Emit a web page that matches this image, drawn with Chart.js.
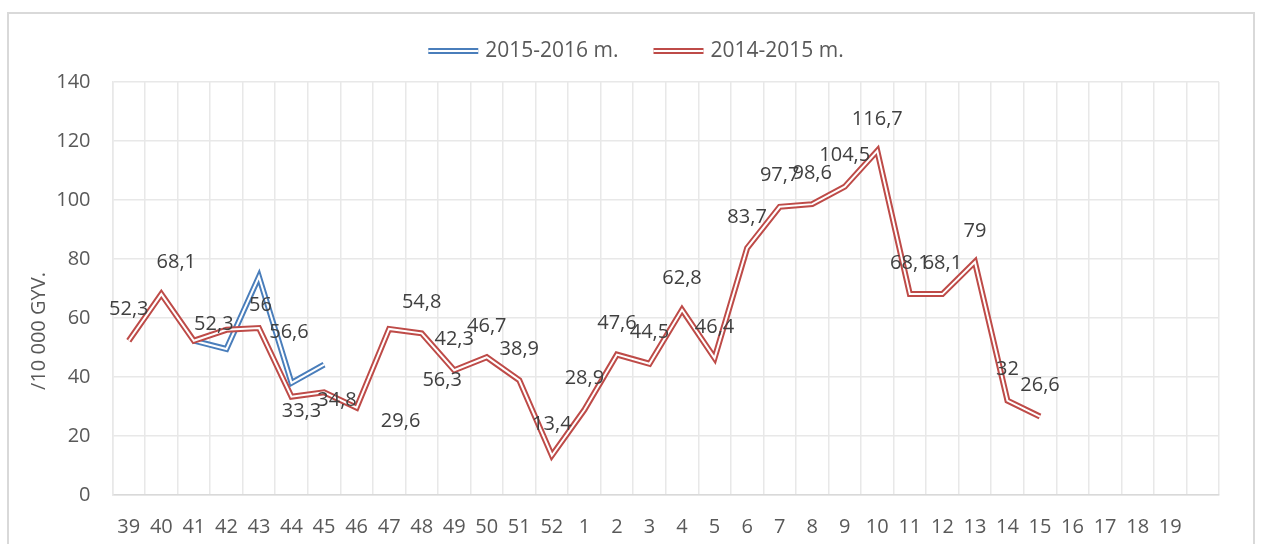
<!DOCTYPE html>
<html>
<head>
<meta charset="utf-8">
<script src="https://cdn.jsdelivr.net/npm/chart.js@4"></script>
<style>
	html, body { margin: 0; padding: 0; background: #fff; }
	#wrap { width: 1261px; height: 544px; position: relative; }
</style>
</head>
<body>
<div id="wrap"><canvas id="weeklyChart"></canvas></div>
<script>
// Weeks of the season (39 .. 52, then 1 .. 19, last slot unlabeled)
const weeks = ['39', '40', '41', '42', '43', '44', '45', '46', '47', '48', '49', '50', '51', '52',
	'1', '2', '3', '4', '5', '6', '7', '8', '9', '10', '11', '12', '13', '14', '15', '16', '17', '18', '19', ''];

// 2015-2016 season, only weeks 41..45 known
const season1516 = [null, null, 52.3, 49.5, 74, 38, 44.2];

// 2014-2015 season, weeks 39..15
const season1415 = [52.3, 68.1, 52.3, 56, 56.6, 33.3, 34.8, 29.6, 56.3, 54.8, 42.3, 46.7, 38.9, 13.4,
	28.9, 47.6, 44.5, 62.8, 46.4, 83.7, 97.7, 98.6, 104.5, 116.7, 68.1, 68.1, 79, 32, 26.6];

const yTicks = [0, 20, 40, 60, 80, 100, 120, 140];

const seriesNames = ['2015-2016 m.', '2014-2015 m.'];
const seriesColors = ['#4a7ebb', '#be4b48'];

const FONT = "'Open Sans', 'Liberation Sans', sans-serif";
const TEXT_COLOR = '#595959';
const GRID_COLOR = '#e8e8e8';

// labels that were dragged off the default "above" spot
const labelShift = { 1: [15, -32], 2: [20, -16], 3: [34, -25], 4: [30, 4], 5: [10, 15], 6: [13, 8], 7: [44, 14], 8: [53, 51] };

function formatValue(v) {
	return String(v).replace('.', ',');
}

// outer chart frame
const framePlugin = {
	id: 'frame',
	beforeDraw(chart) {
		const ctx = chart.ctx;
		ctx.save();
		ctx.strokeStyle = '#d9d9d9';
		ctx.lineWidth = 2;
		ctx.strokeRect(8, 13, chart.width - 15, chart.height + 20);
		ctx.restore();
	},
};

// white stroke down the middle -> double line look
const doubleLinePlugin = {
	id: 'doubleLine',
	afterDatasetDraw(chart, args) {
		const meta = chart.getDatasetMeta(args.index);
		const ctx = chart.ctx;
		ctx.save();
		ctx.beginPath();
		ctx.rect(chart.chartArea.left, chart.chartArea.top - 10, chart.chartArea.width, chart.chartArea.height + 10);
		ctx.clip();
		ctx.strokeStyle = '#ffffff';
		ctx.lineWidth = 2;
		ctx.lineJoin = 'miter';
		ctx.beginPath();
		let open = false;
		meta.data.forEach((pt) => {
			if (pt.skip) {
				open = false;
				return;
			}
			if (!open) {
				ctx.moveTo(pt.x, pt.y);
				open = true;
			} else {
				ctx.lineTo(pt.x, pt.y);
			}
		});
		ctx.stroke();
		ctx.restore();
	},
};

// value labels on the 2014-2015 series
const valueLabelPlugin = {
	id: 'valueLabels',
	afterDatasetsDraw(chart) {
		const meta = chart.getDatasetMeta(1);
		const ctx = chart.ctx;
		ctx.save();
		ctx.font = '20px ' + FONT;
		ctx.fillStyle = '#404040';
		ctx.textAlign = 'center';
		ctx.textBaseline = 'middle';
		meta.data.forEach((pt, i) => {
			const v = season1415[i];
			if (v === null || v === undefined) return;
			const shift = labelShift[i] || [0, -31];
			ctx.fillText(formatValue(v), pt.x + shift[0], pt.y + shift[1]);
		});
		ctx.restore();
	},
};

// legend with double-line keys, plus rotated axis title
const legendPlugin = {
	id: 'doubleLegend',
	afterDraw(chart) {
		const ctx = chart.ctx;
		ctx.save();
		ctx.font = '21px ' + FONT;
		ctx.textBaseline = 'middle';
		const keyW = 50, keyGap = 7, itemGap = 35;
		const widths = seriesNames.map((n) => keyW + keyGap + ctx.measureText(n).width);
		const total = widths.reduce((a, b) => a + b, 0) + itemGap * (widths.length - 1);
		let x = 636 - total / 2;
		const y = 51;
		seriesNames.forEach((name, i) => {
			ctx.strokeStyle = seriesColors[i];
			ctx.lineWidth = 6;
			ctx.beginPath();
			ctx.moveTo(x, y);
			ctx.lineTo(x + keyW, y);
			ctx.stroke();
			ctx.strokeStyle = '#fff';
			ctx.lineWidth = 2;
			ctx.beginPath();
			ctx.moveTo(x, y);
			ctx.lineTo(x + keyW, y);
			ctx.stroke();
			ctx.fillStyle = TEXT_COLOR;
			ctx.textAlign = 'left';
			ctx.fillText(name, x + keyW + keyGap, y);
			x += widths[i] + itemGap;
		});

		// y axis title
		ctx.font = '20px ' + FONT;
		ctx.translate(39, 331);
		ctx.rotate(-Math.PI / 2);
		ctx.textAlign = 'center';
		ctx.fillStyle = TEXT_COLOR;
		ctx.fillText('/10 000 GYV.', 0, 0);
		ctx.restore();
	},
};

function renderWeeklyChart() {
	const canvas = document.getElementById('weeklyChart');
	const ctx = canvas.getContext('2d');

	new Chart(ctx, {
		type: 'line',
		data: {
			labels: weeks,
			datasets: [
				{
					label: seriesNames[0],
					data: season1516,
					borderColor: seriesColors[0],
					borderWidth: 6,
					pointRadius: 0,
					tension: 0,
					order: 1,
				},
				{
					label: seriesNames[1],
					data: season1415,
					borderColor: seriesColors[1],
					borderWidth: 6,
					pointRadius: 0,
					tension: 0,
					order: 0,
				},
			],
		},
		options: {
			responsive: false,
			animation: false,
			layout: { padding: { top: 82, right: 42, left: 0, bottom: 0 } },
			plugins: {
				legend: { display: false },
				tooltip: { enabled: false },
			},
			scales: {
				x: {
					offset: true,
					grid: { offset: true, color: GRID_COLOR, lineWidth: 1.5, drawTicks: false },
					border: { color: '#d9d9d9', width: 1.5 },
					ticks: {
						color: TEXT_COLOR,
						font: { family: FONT, size: 20 },
						padding: 20,
						maxRotation: 0,
						autoSkip: false,
					},
					afterFit(scale) {
						scale.height = 49;
					},
				},
				y: {
					min: yTicks[0],
					max: yTicks[yTicks.length - 1],
					afterBuildTicks(scale) {
						scale.ticks = yTicks.map((v) => ({ value: v }));
					},
					grid: { color: GRID_COLOR, lineWidth: 1.5, drawTicks: false },
					border: { color: GRID_COLOR, width: 1.5 },
					ticks: {
						color: TEXT_COLOR,
						font: { family: FONT, size: 20 },
						padding: 22,
					},
					afterFit(scale) {
						scale.width = 112.5;
					},
				},
			},
		},
		plugins: [framePlugin, doubleLinePlugin, valueLabelPlugin, legendPlugin],
	});
}

document.addEventListener('DOMContentLoaded', function () {
	const canvas = document.getElementById('weeklyChart');
	canvas.width = 1261;
	canvas.height = 544;
	renderWeeklyChart();
});
</script>
</body>
</html>
